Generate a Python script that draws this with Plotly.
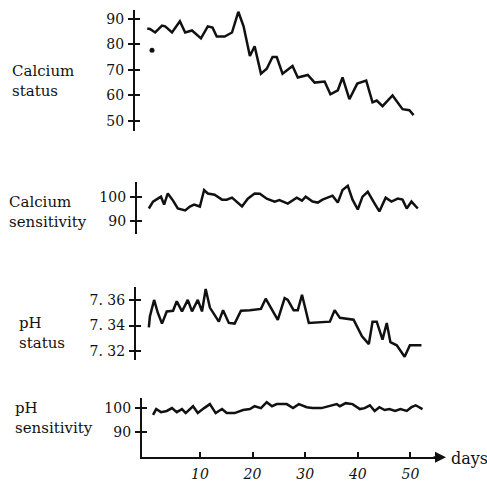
import plotly.graph_objects as go

# ---------------- data ----------------
ca_status_days = [0, 0.5, 1.5, 2.8, 3.4, 4.7, 6.2, 7.2, 8.5, 10.2, 11.5, 12.4, 13.2, 14.7, 16.1,
                  17.3, 18.3, 19.5, 20.4, 21.6, 22.7, 23.8, 24.6, 25.7, 27.6, 28.6, 30.5, 31.8,
                  33.7, 34.8, 36.2, 37.1, 38.4, 39.9, 41.6, 42.8, 43.6, 44.7, 46.6, 48.5, 49.8, 50.6]
ca_status_vals = [86.2, 86.0, 84.6, 87.3, 87.0, 84.6, 89.0, 84.6, 85.4, 82.3, 87.0, 86.5, 83.0, 83.0, 84.6,
                  92.7, 87.0, 75.4, 79.2, 68.5, 70.4, 75.0, 75.0, 68.5, 71.5, 67.0, 68.0, 65.0,
                  65.4, 60.4, 62.0, 67.0, 58.5, 64.6, 65.8, 57.3, 58.0, 55.8, 60.0, 54.6, 54.2, 52.3]
ca_outlier_day = [0.9]
ca_outlier_val = [77.7]

ca_sens_days = [0.3, 1.1, 2.0, 2.6, 3.2, 3.9, 4.9, 5.8, 7.2, 8.1, 8.9, 10.0, 10.8, 11.5, 12.8, 14.2,
                15.1, 16.1, 18.0, 19.1, 20.4, 21.4, 22.7, 24.2, 25.1, 26.7, 28.4, 29.4, 30.1, 31.4,
                32.4, 33.3, 35.2, 36.2, 37.1, 38.1, 39.0, 40.0, 40.9, 41.9, 43.2, 44.1, 45.3, 46.4,
                47.6, 48.5, 49.3, 50.2, 51.4]
ca_sens_vals = [95.2, 98.0, 99.2, 100.0, 96.8, 101.3, 98.4, 95.2, 94.4, 96.0, 96.8, 96.0, 102.7, 101.3,
                100.8, 98.8, 98.8, 99.6, 96.0, 99.2, 101.3, 101.2, 99.2, 98.0, 98.6, 97.2, 99.6, 98.4,
                100.0, 98.0, 97.6, 98.8, 100.4, 97.6, 102.7, 104.4, 98.8, 94.8, 100.0, 102.0, 97.2,
                94.0, 99.6, 98.0, 99.2, 98.8, 95.2, 98.0, 95.2]

ph_status_days = [0.3, 0.5, 1.3, 2.0, 2.8, 3.7, 4.9, 5.6, 6.6, 7.7, 8.5, 9.6, 10.4, 11.1, 11.9, 12.9,
                  13.6, 14.4, 15.5, 16.6, 17.8, 19.5, 21.6, 22.5, 23.7, 24.8, 26.1, 26.7, 27.8, 28.6,
                  29.4, 29.9, 30.7, 34.7, 35.6, 36.6, 39.2, 40.8, 42.1, 42.8, 43.6, 44.7, 45.5, 46.2,
                  47.4, 48.9, 49.9, 52.1]
ph_status_vals = [7.3385, 7.347, 7.360, 7.350, 7.3415, 7.351, 7.3515, 7.359, 7.351, 7.360, 7.351,
                  7.360, 7.351, 7.3685, 7.354, 7.347, 7.343, 7.352, 7.342, 7.3415, 7.3515, 7.352,
                  7.353, 7.361, 7.352, 7.3445, 7.3615, 7.360, 7.352, 7.352, 7.364, 7.355, 7.342,
                  7.343, 7.352, 7.346, 7.3445, 7.3315, 7.3255, 7.343, 7.343, 7.329, 7.342, 7.327,
                  7.3245, 7.3155, 7.3245, 7.3245]

ph_sens_days = [1.1, 1.7, 2.6, 3.7, 4.7, 5.6, 6.6, 7.3, 8.7, 9.6, 10.8, 11.9, 13.0, 14.2, 15.1, 16.6,
                18.2, 19.5, 20.4, 21.6, 22.7, 23.7, 24.6, 26.5, 27.7, 28.8, 30.3, 31.4, 33.1, 34.7,
                36.0, 36.6, 37.7, 39.0, 40.4, 41.3, 42.3, 43.2, 44.1, 45.1, 46.0, 47.1, 48.1, 49.3,
                50.2, 51.0, 52.3]
ph_sens_vals = [97.1, 99.6, 98.3, 98.8, 100.0, 98.3, 99.6, 97.9, 100.8, 97.9, 100.0, 101.7, 97.9, 99.6,
                97.9, 97.9, 99.2, 99.6, 100.8, 100.0, 102.5, 100.8, 101.7, 101.7, 100.0, 101.7, 100.4,
                100.0, 100.0, 100.8, 101.7, 100.8, 102.1, 101.7, 99.6, 100.0, 101.2, 98.8, 100.4,
                99.2, 99.6, 98.8, 99.6, 98.8, 100.4, 101.2, 99.6]

day_ticks = [10, 20, 30, 40, 50]
ca_status_ticks = [90, 80, 70, 60, 50]
ca_sens_ticks = [100, 90]
ph_status_ticks = [7.36, 7.34, 7.32]
ph_status_ticktext = ["7. 36", "7. 34", "7. 32"]
ph_sens_ticks = [100, 90]

row_labels = ["Calcium<br>status", "Calcium<br>sensitivity", "pH<br>status", "pH<br>sensitivity"]

# ---------------- layout geometry ----------------
W, H = 487, 482
SERIF = "DejaVu Serif"
INK = "#111111"

def py(px):
    return 1 - px / H

def pxx(px):
    return px / W

X_LEFT, X_RIGHT = 142, 442          # bottom day axis, pixels
DAY_MIN, DAY_MAX = -1, 56
SCALE = (X_RIGHT - X_LEFT) / (DAY_MAX - DAY_MIN)   # px per day

line_style = dict(color=INK, width=2.5)
tickfont = dict(family=SERIF, size=14, color=INK)

# (x axis id, y axis id, overlay y id, y-axis line x px, domain px (bottom, top), range, ticks, labels)
panels = [
    ("x2", "y", "y5", 135, (133, 10), [90 - (133 - 19) / 2.6, 90 + (19 - 10) / 2.6],
     ca_status_ticks, [str(v) for v in ca_status_ticks]),
    ("x3", "y2", "y6", 137, (238, 185), [100 - (238 - 200) / 2.5, 100 + (200 - 185) / 2.5],
     ca_sens_ticks, [str(v) for v in ca_sens_ticks]),
    ("x4", "y3", "y7", 136, (366, 292), [7.36 - (366 - 305) / 1300, 7.36 + (305 - 292) / 1300],
     ph_status_ticks, ph_status_ticktext),
    ("x", "y4", "y8", 142, (465, 405), [100 - (465 - 415) / 2.4, 100 + (415 - 405) / 2.4],
     ph_sens_ticks, [str(v) for v in ph_sens_ticks]),
]
series = [
    (ca_status_days, ca_status_vals),
    (ca_sens_days, ca_sens_vals),
    (ph_status_days, ph_status_vals),
    (ph_sens_days, ph_sens_vals),
]

fig = go.Figure()
layout = dict(width=W, height=H, margin=dict(l=0, r=0, t=0, b=0),
              paper_bgcolor="white", plot_bgcolor="rgba(0,0,0,0)", showlegend=False)

def axname(a, kind):
    return f"{kind}axis{a[1:]}"

for (xa, ya, yo, lx, (db, dt), rng, tv, tt), (dx, dy) in zip(panels, series):
    fig.add_trace(go.Scatter(x=dx, y=dy, mode="lines", line=line_style, xaxis=xa, yaxis=ya))
    fig.add_trace(go.Scatter(x=[None], y=[None], mode="lines", xaxis=xa, yaxis=yo,
                             hoverinfo="skip"))
    x_start = DAY_MIN - (X_LEFT - lx) / SCALE
    xdict = dict(domain=[pxx(lx), pxx(X_RIGHT)], range=[x_start, DAY_MAX], anchor=ya,
                 showgrid=False, zeroline=False, fixedrange=True)
    if xa == "x":
        xdict.update(tickvals=day_ticks, ticks="inside", ticklen=5, tickwidth=1.6, tickcolor=INK,
                     showline=True, linecolor=INK, linewidth=2.2, ticklabelstandoff=3,
                     tickfont=dict(family=SERIF, size=14, color=INK, style="italic"))
    else:
        xdict.update(showline=False, showticklabels=False, ticks="")
    layout[axname(xa, "x")] = xdict
    common = dict(domain=[py(db), py(dt)], range=rng, tickvals=tv, anchor=xa,
                  showgrid=False, zeroline=False, fixedrange=True,
                  ticklen=5, tickwidth=1.6, tickcolor=INK,
                  showline=True, linecolor=INK, linewidth=2.2)
    layout[axname(ya, "y")] = dict(common, ticks="outside", ticktext=tt, tickfont=tickfont,
                                   ticklabelstandoff=1)
    layout[axname(yo, "y")] = dict(common, ticks="inside", showticklabels=False,
                                   overlaying=ya)

# outlier dot on the calcium status panel
fig.add_trace(go.Scatter(x=ca_outlier_day, y=ca_outlier_val, mode="markers",
                         marker=dict(color=INK, size=5), xaxis="x2", yaxis="y"))

fig.update_layout(**layout)

# row labels
label_pos = [(10, 82), (7, 216), (17, 339), (13, 425)]
for text, (lx, ly) in zip(row_labels, label_pos):
    fig.add_annotation(text=text, xref="paper", yref="paper", x=pxx(lx), y=py(ly),
                       xanchor="left", yanchor="middle", showarrow=False, align="left",
                       font=dict(family=SERIF, size=15, color=INK))

# arrow head at end of the day axis + "days" label
fig.add_annotation(xref="paper", yref="paper", x=pxx(446), y=py(465), ax=-14, ay=0,
                   text="", showarrow=True, arrowhead=2, arrowsize=1.1, arrowwidth=2,
                   arrowcolor=INK)
fig.add_annotation(text="days", xref="paper", yref="paper", x=pxx(449), y=py(466),
                   xanchor="left", yanchor="middle", showarrow=False,
                   font=dict(family=SERIF, size=16, color=INK))

fig.write_html("out.html")
